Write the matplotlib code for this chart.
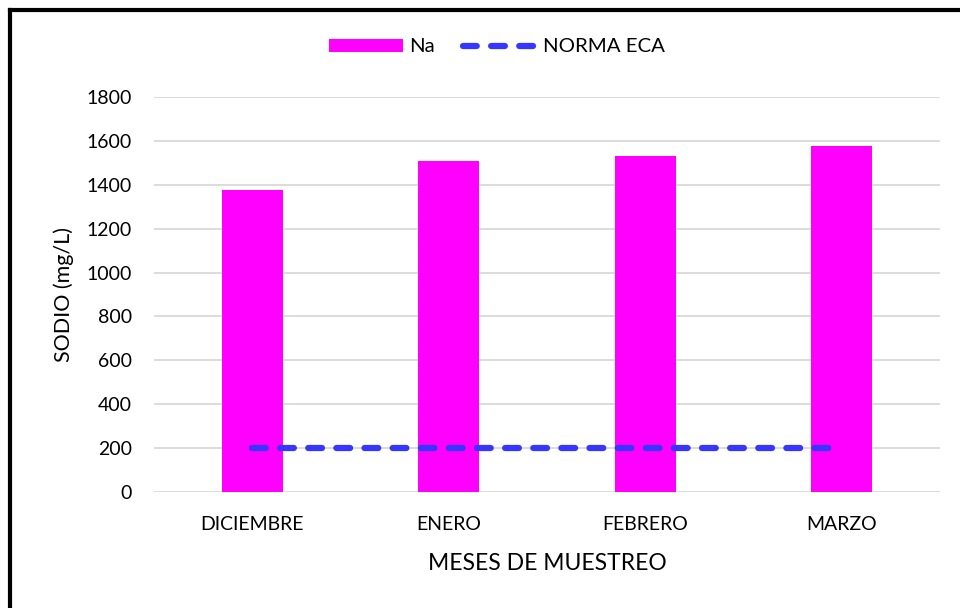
import matplotlib
matplotlib.use("Agg")
import matplotlib.pyplot as plt
from matplotlib.lines import Line2D
from matplotlib.patches import Patch

plt.rcParams['font.family'] = ['Lato', 'DejaVu Sans']

meses = ["DICIEMBRE", "ENERO", "FEBRERO", "MARZO"]
sodio = [1375, 1508, 1531, 1575]
norma_eca = [200, 200, 200, 200]
y_ticks = [0, 200, 400, 600, 800, 1000, 1200, 1400, 1600, 1800]

fig = plt.figure(figsize=(9.6, 6.08), dpi=100)
ax = fig.add_axes([154 / 960, 1 - 492 / 608, (940 - 154) / 960, (492 - 97) / 608])

x = list(range(len(meses)))
ax.bar(x, sodio, width=0.31, color="#FF00FF", zorder=2)
dash = (0, (2.2, 2.3))
ax.plot(x, norma_eca, color="#3636FF", lw=4.5, linestyle=dash,
        dash_capstyle="round", zorder=3)

ax.set_xlim(-0.5, len(meses) - 0.5)
ax.set_ylim(0, 1800)
ax.set_yticks(y_ticks)
ax.set_xticks(x)
ax.set_xticklabels(meses)
ax.tick_params(axis="both", length=0, labelsize=14, colors="black")
ax.tick_params(axis="y", pad=16)
ax.tick_params(axis="x", pad=17.5)
ax.grid(axis="y", color="#D9D9D9", lw=1.3, zorder=0)
for s in ax.spines.values():
    s.set_visible(False)

ax.set_xlabel("MESES DE MUESTREO", fontsize=16.5, labelpad=14)
ax.set_ylabel("SODIO (mg/L)", fontsize=15.5, labelpad=9)

handles = [
    Patch(facecolor="#FF00FF", edgecolor="none"),
    Line2D([0], [0], color="#3636FF", lw=4.5, linestyle=dash,
           dash_capstyle="round"),
]
fig.legend(handles, ["Na", "NORMA ECA"], loc="center", bbox_to_anchor=(497 / 960, 1 - 47 / 608),
           ncol=2, frameon=False, fontsize=14.7, handlelength=3.6, handleheight=0.6,
           handletextpad=0.3, columnspacing=1.4)

# outer frame (left and top edges)
fig.add_artist(Line2D([10 / 960, 10 / 960], [0, 1 - 9.5 / 608], color="black", lw=3,
                      transform=fig.transFigure, solid_capstyle="projecting"))
fig.add_artist(Line2D([10 / 960, 1], [1 - 9.5 / 608, 1 - 9.5 / 608], color="black", lw=3,
                      transform=fig.transFigure, solid_capstyle="projecting"))

fig.savefig("out.png", dpi=100, facecolor="white")
